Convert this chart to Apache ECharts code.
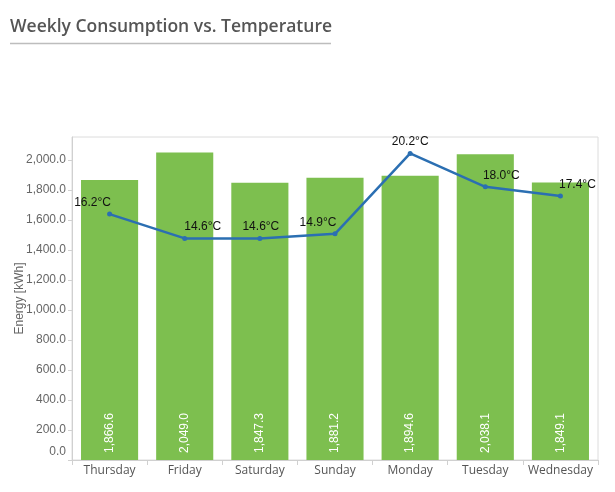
<!DOCTYPE html>
<html>
<head>
<meta charset="utf-8">
<script src="https://cdn.jsdelivr.net/npm/echarts@6/dist/echarts.min.js"></script>
<style>
html,body{margin:0;padding:0;background:#fff;}
#c{width:615px;height:492px;}
</style>
</head>
<body>
<div id="c"></div>
<script>
var days = ['Thursday','Friday','Saturday','Sunday','Monday','Tuesday','Wednesday'];
var energy = [1866.6, 2049.0, 1847.3, 1881.2, 1894.6, 2038.1, 1849.1];
var temperature = [16.2, 14.6, 14.6, 14.9, 20.2, 18.0, 17.4];
var energyTicks = [0,200,400,600,800,1000,1200,1400,1600,1800,2000];
var tempLabelShift = [-17, 18, 1, -17, 0, 16, 17];

function fmt(v){
  return v.toLocaleString('en-US',{minimumFractionDigits:1,maximumFractionDigits:1});
}

var chart = echarts.init(document.getElementById('c'), null, {renderer:'canvas'});
chart.setOption({
  animation:false,
  backgroundColor:'#fff',
  title:{
    text:'Weekly Consumption vs. Temperature',
    left:5, top:13, padding:[5,5,5,5],
    textStyle:{fontFamily:'Open Sans', fontWeight:600, fontSize:17.5, color:'#555555'}
  },
  graphic:[{
    type:'line', shape:{x1:10,y1:43.5,x2:331,y2:43.5},
    style:{stroke:'#bdbdbd', lineWidth:1.5}
  }],
  grid:{left:72, right:17, top:137, bottom:32, show:true, borderColor:'#dcdcdc', borderWidth:1,
        containLabel:false, outerBoundsMode:'none'},
  xAxis:{
    type:'category', data:days,
    axisLine:{lineStyle:{color:'#d0d0d0'}},
    axisTick:{show:true, length:5, lineStyle:{color:'#d0d0d0'}},
    axisLabel:{interval:0, fontFamily:'Open Sans', fontSize:12, color:'#555', margin:5}
  },
  yAxis:[{
    type:'value', min:0, max:2153,
    name:'Energy [kWh]', nameLocation:'middle', nameGap:46, nameMoveOverlap:false,
    nameTextStyle:{fontFamily:'Liberation Sans', fontSize:12, color:'#666'},
    axisLine:{show:true, lineStyle:{color:'#d0d0d0'}},
    axisTick:{show:true, length:4, customValues:energyTicks, lineStyle:{color:'#d0d0d0'}},
    axisLabel:{
      customValues:energyTicks, fontFamily:'Liberation Sans', fontSize:12, color:'#666', margin:6,
      formatter:function(v){ return v===0 ? '{z|0.0}' : fmt(v); },
      rich:{z:{fontFamily:'Liberation Sans', fontSize:12, color:'#666', padding:[0,0,16,0]}}
    },
    splitLine:{show:false}
  },{
    type:'value', min:0, max:21.28, show:false, splitLine:{show:false}
  }],
  series:[{
    type:'bar', data:energy, barCategoryGap:'24%',
    itemStyle:{color:'#7dbf4f'},
    label:{
      show:true, position:'insideBottom', rotate:90, align:'left', verticalAlign:'middle',
      distance:7, color:'#fff', fontFamily:'Liberation Sans', fontSize:12,
      formatter:function(p){ return fmt(p.value); }
    }
  },{
    type:'line', yAxisIndex:1,
    data:temperature.map(function(t,i){
      return {value:t, label:{offset:[tempLabelShift[i],0]}};
    }),
    symbol:'circle', symbolSize:5,
    lineStyle:{color:'#2b6fb2', width:2.5},
    itemStyle:{color:'#2b6fb2'},
    label:{
      show:true, position:'top', distance:3, color:'#111',
      fontFamily:'Liberation Sans', fontSize:12,
      formatter:function(p){ return p.value.toFixed(1)+'°C'; }
    }
  }]
});
</script>
</body>
</html>
